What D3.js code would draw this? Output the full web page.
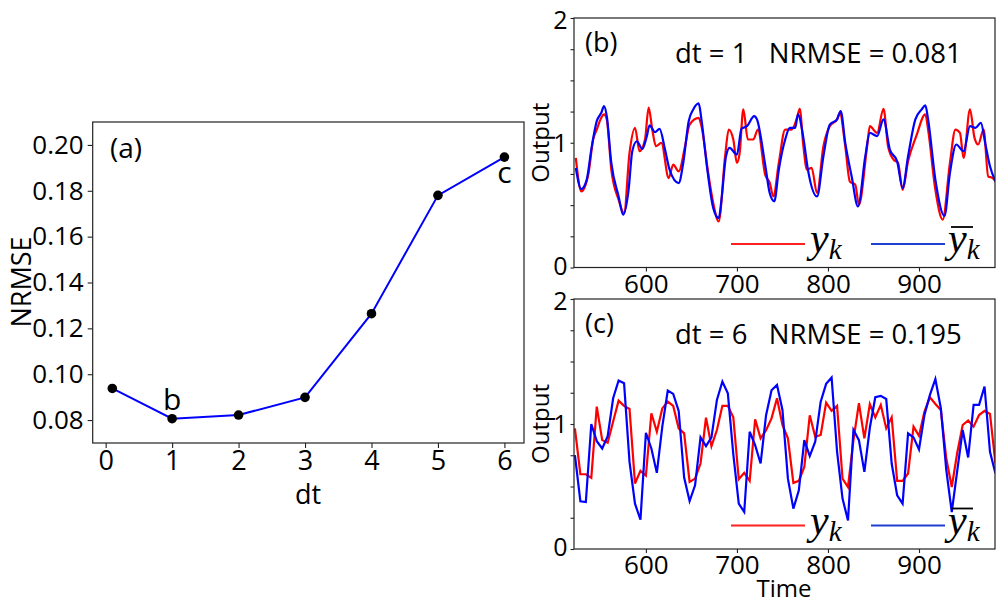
<!DOCTYPE html>
<html>
<head>
<meta charset="utf-8">
<script src="https://cdn.jsdelivr.net/npm/d3@7"></script>
<style>
body{margin:0;background:#fff;}
svg text{font-family:"Open Sans",sans-serif;fill:#000;}
</style>
</head>
<body>
<div id="chart"></div>
<script>
// panel (a): NRMSE vs dt
const aDt=[0.1,1,2,3,4,5,6];
const aNrmse=[0.0938,0.0806,0.0822,0.0899,0.1264,0.178,0.1947];
const aTicksX=[0,1,2,3,4,5,6];
const aTicksY=[0.08,0.10,0.12,0.14,0.16,0.18,0.20];

// panel (b): dt = 1, [time, output]
const bTrue=[[523,0.878],[529,0.61],[537,0.758],[542,1.026],[546,1.106],[551,1.2],[554,1.227],[557,1.187],[562,0.784],[570,0.543],[576,0.436],[582,0.919],[588,1.12],[593,0.932],[599,1.026],[603,1.281],[607,1.106],[611,0.972],[617,0.999],[625,0.717],[630,0.825],[636,0.771],[643,0.972],[648,1.146],[658,1.2],[661,1.133],[669,0.73],[674,0.516],[680,0.369],[687,0.892],[691,1.106],[696,1.026],[700,0.838],[703,0.919],[707,1.267],[712,1.026],[718,1.026],[723,1.106],[731,0.744],[736,0.68],[740,0.57],[746,0.838],[753,1.106],[760,1.106],[766,1.2],[769,1.272],[773,0.972],[777,0.784],[782,0.798],[788,0.597],[795,0.972],[802,1.133],[810,1.187],[813,1.24],[819,0.972],[824,0.69],[830,0.664],[834,0.503],[843,0.972],[846,1.133],[854,1.079],[861,1.272],[866,0.972],[872,0.865],[877,0.838],[882,0.623],[888,0.851],[897,1.053],[907,1.227],[910,1.106],[918,0.623],[926,0.383],[934,0.838],[940,1.106],[945,1.079],[949,0.878],[956,1.267],[961,1.039],[965,0.986],[971,1.106],[976,0.731],[981,0.717],[985,0.68]];
const bPred=[[523,0.798],[529,0.629],[535,0.704],[540,0.945],[546,1.173],[551,1.24],[554,1.294],[557,1.213],[562,0.838],[570,0.57],[575,0.423],[581,0.624],[585,0.932],[590,1.012],[596,0.951],[601,1.053],[604,1.139],[610,1.085],[615,1.112],[621,0.945],[626,0.784],[636,0.677],[641,0.838],[647,1.173],[652,1.267],[658,1.315],[661,1.187],[667,0.811],[674,0.476],[680,0.396],[683,0.543],[688,0.892],[692,0.959],[700,0.905],[705,1.112],[711,1.133],[719,1.213],[722,1.187],[731,0.825],[736,0.597],[741,0.53],[746,0.784],[753,1.026],[758,1.12],[764,1.12],[767,1.227],[773,1.039],[778,0.784],[788,0.57],[795,0.892],[802,1.146],[810,1.187],[814,1.254],[819,0.999],[826,0.731],[833,0.489],[841,0.892],[846,1.079],[854,1.053],[861,1.187],[868,0.945],[876,0.851],[882,0.637],[888,0.892],[896,1.187],[903,1.267],[907,1.3],[910,1.187],[918,0.704],[928,0.414],[934,0.758],[941,0.986],[949,0.932],[956,1.133],[962,1.12],[968,1.16],[973,0.986],[978,0.811],[984,0.69]];

// panel (c): dt = 6, one sample every 6 steps from t = 522
const cTime=d3.range(522,985,6);
const cTrue=[0.965,0.598,0.598,0.569,1.139,0.871,0.85,1.02,1.187,1.145,1.12,0.524,0.625,0.587,1.086,0.938,1.125,1.179,1.145,0.965,0.925,0.537,0.563,0.684,1.05,0.823,0.952,1.145,1.145,1.053,0.558,0.609,0.545,1.037,0.885,0.95,1.045,1.206,0.992,0.885,0.529,0.545,0.657,1.07,0.898,0.912,1.171,1.105,1.145,0.563,0.496,0.871,1.166,0.885,1.16,1.053,1.153,0.965,1.053,0.545,0.545,0.604,0.979,0.905,1.099,1.214,1.16,1.112,0.724,0.496,0.77,0.992,1.027,0.979,1.072,1.105,1.08,0.684];
const cPred=[0.751,0.382,0.376,1.0,0.863,0.804,0.903,1.206,1.348,1.326,0.697,0.363,0.234,0.93,0.804,0.609,0.979,1.268,1.241,1.105,0.572,0.384,0.51,0.893,0.823,0.893,1.193,1.34,1.246,0.759,0.363,0.296,0.938,0.831,0.684,1.07,1.27,1.313,1.112,0.563,0.323,0.47,0.871,0.743,0.858,1.179,1.321,1.372,0.778,0.403,0.229,0.952,0.871,0.617,0.97,1.214,1.225,1.2,0.684,0.43,0.363,0.925,0.893,0.797,1.072,1.233,1.359,1.126,0.63,0.296,0.625,0.952,0.732,1.153,1.153,1.3,0.778,0.604];
const timeTicks=[600,700,800,900];

const W=997,H=604;
const svg=d3.select("#chart").append("svg").attr("width",W).attr("height",H);

function frame(x0,y0,x1,y1){
  svg.append("rect").attr("x",x0).attr("y",y0).attr("width",x1-x0).attr("height",y1-y0)
     .attr("fill","none").attr("stroke","#222").attr("stroke-width",1.2);
}
function styleAxis(g,fs){
  g.select(".domain").remove();
  g.selectAll(".tick line").attr("stroke","#222").attr("stroke-width",1.1);
  g.selectAll(".tick text").style("font-size",fs+"px").attr("fill","#000");
}

// ---- panel (a)
const xA=d3.scaleLinear().domain([-0.195,6.295]).range([92.7,524]);
const yA=d3.scaleLinear().domain([0.07,0.21]).range([443,122]);
const gxA=svg.append("g").attr("transform","translate(0,443)")
  .call(d3.axisBottom(xA).tickValues(aTicksX).tickSize(5).tickPadding(3).tickFormat(d3.format("d")));
styleAxis(gxA,27);
const gyA=svg.append("g").attr("transform","translate(92.7,0)")
  .call(d3.axisLeft(yA).tickValues(aTicksY).tickSize(5).tickPadding(4).tickFormat(d3.format(".2f")));
styleAxis(gyA,26);
frame(92.7,122,524,443);
svg.append("path").datum(aDt.map((d,i)=>[d,aNrmse[i]]))
  .attr("fill","none").attr("stroke","#0000ff").attr("stroke-width",2)
  .attr("d",d3.line().x(d=>xA(d[0])).y(d=>yA(d[1])));
svg.selectAll(".dotA").data(aDt).enter().append("circle")
  .attr("cx",d=>xA(d)).attr("cy",(d,i)=>yA(aNrmse[i])).attr("r",4.8).attr("fill","#000");
svg.append("text").attr("x",110).attr("y",158).style("font-size","28px").text("(a)");
svg.append("text").attr("x",xA(1)).attr("y",yA(aNrmse[1])-9).attr("text-anchor","middle").style("font-size","30px").text("b");
svg.append("text").attr("x",xA(6)).attr("y",yA(aNrmse[6])+26).attr("text-anchor","middle").style("font-size","30px").text("c");
svg.append("text").attr("transform","translate(31,282) rotate(-90)").attr("text-anchor","middle").style("font-size","27px").text("NRMSE");
svg.append("text").attr("x",308).attr("y",504).attr("text-anchor","middle").style("font-size","27px").text("dt");

// ---- panels (b) and (c)
const xT=d3.scaleLinear().domain([521,983.5]).range([574,995]);
svg.append("defs").append("clipPath").attr("id","clipT").append("rect")
  .attr("x",574).attr("y",0).attr("width",421).attr("height",H);

function seriesPanel(top,bottom,label,txt,redPts,bluePts,curve,showTime){
  const y=d3.scaleLinear().domain([0,2]).range([bottom,top]);
  const gx=svg.append("g").attr("transform","translate(0,"+bottom+")")
    .call(d3.axisBottom(xT).tickValues(timeTicks).tickSize(4).tickPadding(3).tickFormat(d3.format("d")));
  styleAxis(gx,26);
  const gy=svg.append("g").attr("transform","translate(574,0)")
    .call(d3.axisLeft(y).tickValues(d3.range(0,2.01,0.25)).tickSize(3.5).tickPadding(3)
      .tickFormat(d=>Number.isInteger(d)?d:""));
  styleAxis(gy,25);
  // nudge the end labels a little apart so the two panels' 0 and 2 don't collide
  gy.selectAll(".tick text").attr("dy",d=>d===0?"0.26em":d===2?"0.42em":"0.34em");
  const line=d3.line().x(d=>xT(d[0])).y(d=>y(d[1])).curve(curve);
  const g=svg.append("g").attr("clip-path","url(#clipT)");
  g.append("path").datum(redPts).attr("fill","none").attr("stroke","#ff0000").attr("stroke-width",2.2).attr("d",line);
  g.append("path").datum(bluePts).attr("fill","none").attr("stroke","#0000ff").attr("stroke-width",2.2).attr("d",line);
  frame(574,top,995,bottom);
  svg.append("text").attr("x",585).attr("y",top+34).style("font-size","27px").text(label);
  svg.append("text").attr("x",675).attr("y",top+45).style("font-size","27.5px").attr("xml:space","preserve").text(txt);
  svg.append("text").attr("transform","translate(549,"+((top+bottom)/2)+") rotate(-90)")
    .attr("text-anchor","middle").style("font-size","24px").text("Output");
  // legend
  const ly=bottom-23.5;
  svg.append("line").attr("x1",731).attr("x2",805).attr("y1",ly).attr("y2",ly).attr("stroke","#ff2020").attr("stroke-width",2);
  svg.append("line").attr("x1",871).attr("x2",945).attr("y1",ly).attr("y2",ly).attr("stroke","#2040d0").attr("stroke-width",2);
  const t1=svg.append("text").attr("x",810).attr("y",ly+8).style("font-family","'Liberation Serif',serif").style("font-style","italic").style("font-size","42px");
  t1.append("tspan").text("y");
  t1.append("tspan").attr("dy",7).style("font-size","29px").text("k");
  const t2=svg.append("text").attr("x",948).attr("y",ly+8).style("font-family","'Liberation Serif',serif").style("font-style","italic").style("font-size","42px");
  t2.append("tspan").text("y");
  t2.append("tspan").attr("dy",7).style("font-size","29px").text("k");
  svg.append("line").attr("x1",951).attr("x2",973).attr("y1",ly-17).attr("y2",ly-17).attr("stroke","#000").attr("stroke-width",1.8);
  if(showTime){
    svg.append("text").attr("x",784).attr("y",597).attr("text-anchor","middle").style("font-size","24px").text("Time");
  }
}
seriesPanel(18,267.5,"(b)","dt = 1   NRMSE = 0.081",bTrue,bPred,d3.curveMonotoneX,false);
seriesPanel(299,549,"(c)","dt = 6   NRMSE = 0.195",cTime.map((t,i)=>[t,cTrue[i]]),cTime.map((t,i)=>[t,cPred[i]]),d3.curveLinear,true);
</script>
</body>
</html>
